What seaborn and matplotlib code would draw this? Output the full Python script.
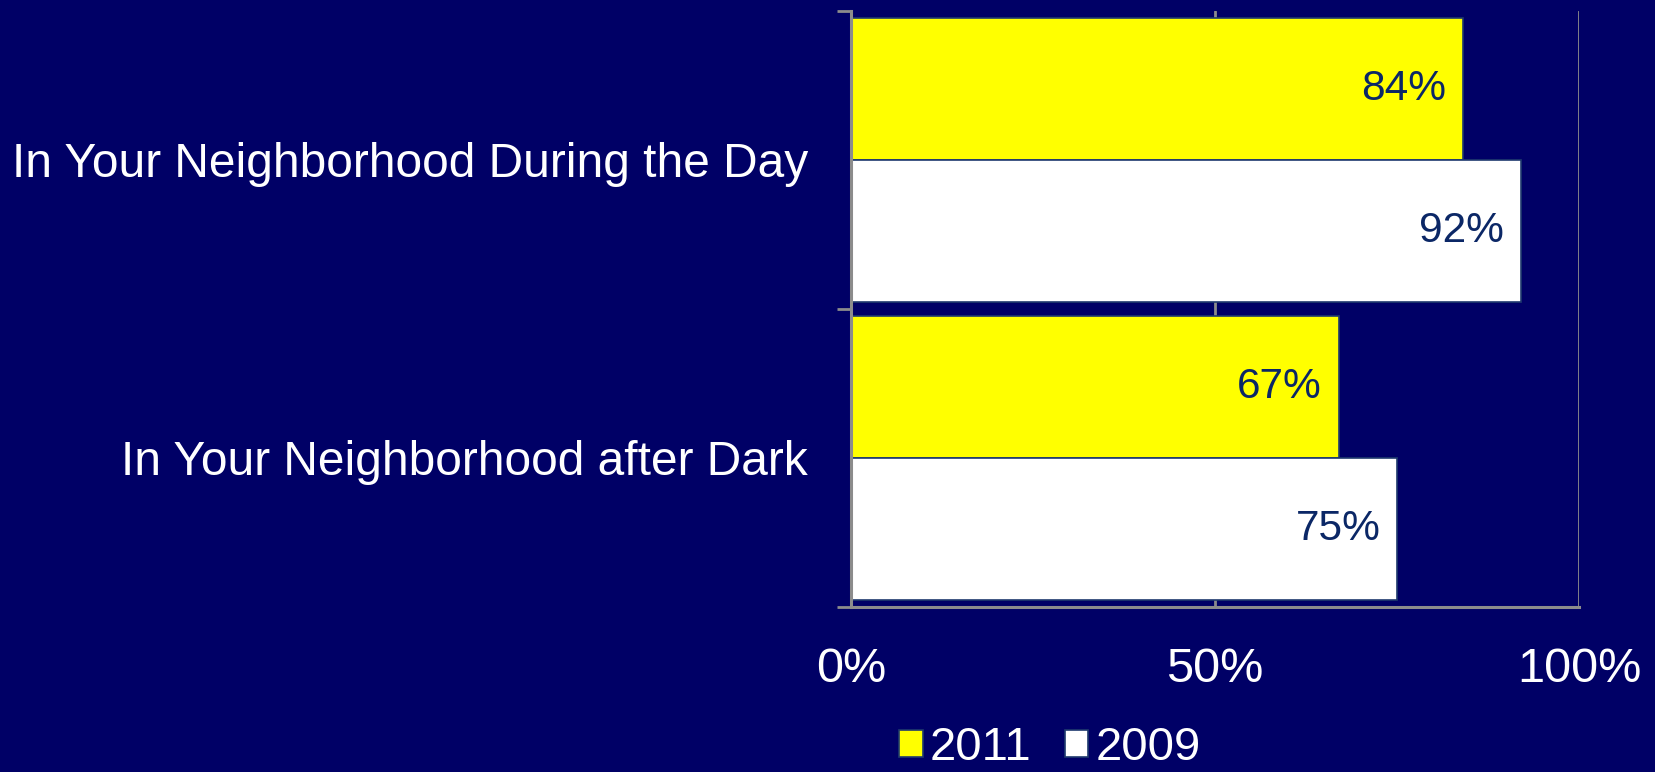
import matplotlib
matplotlib.use("Agg")
import matplotlib.pyplot as plt
import seaborn as sns
import pandas as pd
from matplotlib.ticker import FixedLocator

categories = ["In Your Neighborhood During the Day", "In Your Neighborhood after Dark"]
years = ["2011", "2009"]
values_2011 = [84, 67]
values_2009 = [92, 75]
xticks = [0, 50, 100]
xtick_labels = ["0%", "50%", "100%"]

BG = "#000066"
GRID = "#8c8c8c"
LABEL_COLOR = "#0b2766"

df = pd.DataFrame({
    "category": categories * 2,
    "year": [years[0]] * 2 + [years[1]] * 2,
    "value": values_2011 + values_2009,
})

sns.set_theme(style="white")
plt.rcParams["font.family"] = ["Liberation Sans", "DejaVu Sans"]

fig = plt.figure(figsize=(16.56, 7.72), dpi=100, facecolor=BG)
ax = fig.add_axes([851 / 1656, 1 - 607 / 772, (1579 - 851) / 1656, (607 - 10.6) / 772])
ax.set_facecolor(BG)

sns.barplot(data=df, x="value", y="category", hue="year", hue_order=years,
            order=categories, orient="h", palette={"2011": "#FFFF00", "2009": "#FFFFFF"},
            saturation=1, width=0.953, edgecolor="#1f3a6e", linewidth=1.2, ax=ax, zorder=3,
            legend=True)

ax.set_xlim(0, 100)
ax.set_ylim(1.5, -0.5)

# gridlines
ax.xaxis.grid(True, color=GRID, linewidth=2, zorder=0)
ax.yaxis.grid(False)
ax.set_axisbelow(True)

ax.set_xticks(xticks)
ax.set_xticklabels(xtick_labels, color="white", fontsize=35)
ax.tick_params(axis="x", direction="out", length=10, width=2, color=GRID, pad=19)

# y ticks: labels at centers, tick marks at category boundaries
ax.set_yticks(range(len(categories)))
ax.set_yticklabels(categories, color="white", fontsize=34.5)
ax.tick_params(axis="y", which="major", length=0, pad=31)
ax.yaxis.set_minor_locator(FixedLocator([-0.5, 0.5, 1.5]))
ax.tick_params(axis="y", which="minor", direction="out", length=10, width=2, color=GRID, left=True)

for side in ["top", "right"]:
    ax.spines[side].set_visible(False)
for side in ["left", "bottom"]:
    ax.spines[side].set_color(GRID)
    ax.spines[side].set_linewidth(2.2)
    ax.spines[side].set_zorder(4)

ax.set_xlabel("")
ax.set_ylabel("")

# value labels inside bar ends
for cont in ax.containers:
    for patch in cont:
        w = patch.get_width()
        yc = patch.get_y() + patch.get_height() / 2
        ax.annotate(f"{w:.0f}%", xy=(w, yc), xytext=(-12, 0), textcoords="offset points",
                    ha="right", va="center", fontsize=30.5, color=LABEL_COLOR, zorder=5)

leg = ax.get_legend()
handles = leg.legend_handles
leg.remove()
fig.legend(handles, years, loc="center", bbox_to_anchor=(1050 / 1656, 1 - 748 / 772),
           ncol=2, frameon=False, fontsize=34, labelcolor="white",
           handlelength=0.5, handleheight=0.5, handletextpad=0.15, columnspacing=0.7,
           borderaxespad=0)

fig.savefig("out.png", dpi=100, facecolor=BG)
